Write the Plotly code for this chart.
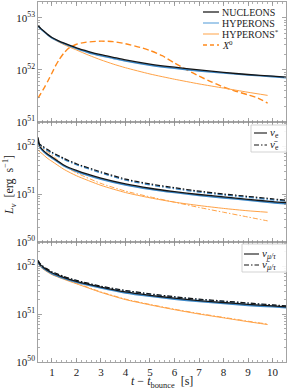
import numpy as np
import plotly.graph_objects as go
from plotly.subplots import make_subplots

# ---------------- data (log10 of luminosity, erg/s) ----------------
t_full = [0.43, 0.55, 0.7, 0.85, 1.0, 1.25, 1.5, 2, 2.5, 3, 3.5, 4, 5, 6, 7, 8, 9, 10, 10.55]
top_nucleons = [52.85, 52.79, 52.73, 52.67, 52.62, 52.56, 52.51, 52.42, 52.35, 52.29, 52.24, 52.19,
                52.11, 52.05, 52.00, 51.95, 51.91, 51.88, 51.86]
top_hyperons = [52.84, 52.78, 52.72, 52.66, 52.61, 52.55, 52.50, 52.41, 52.33, 52.27, 52.22, 52.17,
                52.09, 52.03, 51.98, 51.94, 51.90, 51.87, 51.85]
t_star = [0.43, 0.55, 0.7, 0.85, 1.0, 1.25, 1.5, 2, 2.5, 3, 3.5, 4, 5, 6, 7, 8, 9, 9.8]
top_hyperons_star = [52.83, 52.78, 52.72, 52.66, 52.61, 52.54, 52.48, 52.38, 52.28, 52.19, 52.11,
                     52.04, 51.92, 51.82, 51.73, 51.65, 51.57, 51.51]
t_x0 = [0.43, 0.55, 0.7, 0.85, 1.0, 1.15, 1.3, 1.5, 1.7, 2.0, 2.4, 3.0, 3.5, 4.0, 4.6, 5.0, 5.5,
        6.0, 6.5, 7.0, 7.5, 8.0, 8.5, 9.0, 9.4, 9.8]
top_x0 = [51.46, 51.55, 51.67, 51.80, 51.94, 52.08, 52.20, 52.33, 52.42, 52.49, 52.53, 52.55, 52.54,
          52.50, 52.43, 52.37, 52.27, 52.13, 52.00, 51.88, 51.77, 51.67, 51.59, 51.52, 51.46, 51.36]

t_nu = [0.43, 0.5, 0.6, 0.8, 1.0, 1.5, 2, 3, 4, 5, 6, 7, 8, 9, 10, 10.55]
t_nu_star = [0.43, 0.5, 0.6, 0.8, 1.0, 1.5, 2, 3, 4, 5, 6, 7, 8, 9, 9.8]

# middle panel: electron neutrinos / antineutrinos
mid_nue_nucleons = [52.18, 52.00, 51.93, 51.84, 51.77, 51.60, 51.49, 51.33, 51.21, 51.12, 51.05,
                    50.99, 50.94, 50.89, 50.84, 50.82]
mid_nue_hyperons = [52.15, 51.98, 51.91, 51.82, 51.75, 51.58, 51.47, 51.31, 51.19, 51.10, 51.03,
                    50.97, 50.92, 50.87, 50.82, 50.80]
mid_anue_nucleons = [52.08, 52.04, 52.00, 51.93, 51.87, 51.74, 51.63, 51.46, 51.31, 51.21, 51.13,
                     51.06, 51.00, 50.95, 50.90, 50.87]
mid_anue_hyperons = [52.06, 52.02, 51.98, 51.91, 51.85, 51.72, 51.61, 51.44, 51.29, 51.19, 51.11,
                     51.04, 50.98, 50.93, 50.88, 50.85]
mid_nue_star = [51.92, 51.88, 51.84, 51.75, 51.68, 51.51, 51.38, 51.18, 51.03, 50.92, 50.83, 50.76,
                50.70, 50.65, 50.62]
mid_anue_star = [52.04, 52.00, 51.96, 51.88, 51.81, 51.59, 51.44, 51.22, 51.06, 50.94, 50.83, 50.72,
                 50.62, 50.52, 50.44]

# bottom panel: heavy-lepton neutrinos / antineutrinos
bot_numu_nucleons = [52.10, 52.04, 51.99, 51.92, 51.86, 51.76, 51.68, 51.56, 51.46, 51.39, 51.33,
                     51.28, 51.24, 51.20, 51.17, 51.15]
bot_numu_hyperons = [52.08, 52.02, 51.97, 51.90, 51.84, 51.74, 51.66, 51.54, 51.44, 51.37, 51.31,
                     51.26, 51.22, 51.18, 51.15, 51.13]
bot_anumu_nucleons = [52.12, 52.06, 52.01, 51.94, 51.88, 51.78, 51.70, 51.58, 51.49, 51.42, 51.36,
                      51.31, 51.27, 51.23, 51.19, 51.17]
bot_anumu_hyperons = [52.11, 52.05, 52.00, 51.93, 51.87, 51.77, 51.69, 51.57, 51.48, 51.41, 51.35,
                      51.30, 51.26, 51.22, 51.18, 51.16]
bot_numu_star = [52.06, 52.00, 51.95, 51.88, 51.82, 51.72, 51.63, 51.45, 51.30, 51.19, 51.09, 51.00,
                 50.92, 50.84, 50.78]
bot_anumu_star = [52.07, 52.01, 51.96, 51.89, 51.83, 51.73, 51.64, 51.46, 51.31, 51.20, 51.10, 51.01,
                  50.93, 50.85, 50.79]

legend_top = ["NUCLEONS", "HYPERONS", "HYPERONS<sup>*</sup>", "<i>X</i><sup>0</sup>"]
legend_mid = ["<i>ν</i><sub>e</sub>", "<i>ν̄</i><sub>e</sub>"]
legend_bot = ["<i>ν</i><sub><i>μ/τ</i></sub>", "<i>ν̄</i><sub><i>μ/τ</i></sub>"]

x_ticks = [1, 2, 3, 4, 5, 6, 7, 8, 9, 10]
y_ticks_top = [51, 52, 53]
y_ticks_low = [50, 51, 52]
x_title = "<i>t</i> − <i>t</i><sub>bounce</sub>  [s]"
y_title = "<i>L</i><sub><i>ν</i></sub>  [erg  s<sup>−1</sup>]"

# ---------------- styling ----------------
BLACK = "#151515"
BLUE = "#3d88c8"
ORANGE = "#ffa246"
ORANGE_D = "#ff8a1c"
AXC = "#8c8c8c"
FONT = "Liberation Serif"
DASHDOT = "5px,2px,1.5px,2px"


def p(v):
    return 10 ** np.asarray(v, dtype=float)


fig = make_subplots(rows=3, cols=1, shared_xaxes=True, vertical_spacing=0)


def add(row, x, y, color, width, dash="solid"):
    fig.add_trace(go.Scatter(x=x, y=p(y), mode="lines", showlegend=False, hoverinfo="skip",
                             line=dict(color=color, width=width, dash=dash, shape="spline",
                                       smoothing=0.6)), row=row, col=1)


# top
add(1, t_x0, top_x0, ORANGE_D, 1.4, "6px,3px")
add(1, t_star, top_hyperons_star, ORANGE, 1.0)
add(1, t_full, top_hyperons, BLUE, 1.6)
add(1, t_full, top_nucleons, BLACK, 1.3)
# middle
add(2, t_nu_star, mid_anue_star, ORANGE, 1.0, DASHDOT)
add(2, t_nu_star, mid_nue_star, ORANGE, 1.0)
add(2, t_nu, mid_anue_hyperons, BLUE, 1.4, DASHDOT)
add(2, t_nu, mid_nue_hyperons, BLUE, 1.6)
add(2, t_nu, mid_anue_nucleons, BLACK, 1.2, DASHDOT)
add(2, t_nu, mid_nue_nucleons, BLACK, 1.3)
# bottom
add(3, t_nu_star, bot_anumu_star, ORANGE, 1.0, DASHDOT)
add(3, t_nu_star, bot_numu_star, ORANGE, 1.0)
add(3, t_nu, bot_anumu_hyperons, BLUE, 1.4, DASHDOT)
add(3, t_nu, bot_numu_hyperons, BLUE, 1.6)
add(3, t_nu, bot_anumu_nucleons, BLACK, 1.2, DASHDOT)
add(3, t_nu, bot_numu_nucleons, BLACK, 1.3)

xminor = dict(ticks="inside", ticklen=2, dtick=0.2, tick0=0, tickcolor=AXC, tickwidth=0.7,
              showgrid=False)
for r in (1, 2, 3):
    fig.update_xaxes(row=r, col=1, range=[0.43, 10.55], tickmode="array", tickvals=x_ticks,
                     ticktext=[str(v) for v in x_ticks], ticks="inside", ticklen=4,
                     tickcolor=AXC, tickwidth=0.8, showline=True, linecolor=AXC, linewidth=0.8,
                     mirror="ticks", showgrid=False, zeroline=False, minor=xminor,
                     tickfont=dict(family=FONT, size=11, color="#222"))


def yminor(lo, hi):
    vals = [m * 10.0 ** e for e in range(lo, hi) for m in range(2, 10)]
    return dict(ticks="inside", ticklen=2, tickmode="array", tickvals=vals, tickcolor=AXC,
                tickwidth=0.7, showgrid=False)


for r, rng, tv in ((1, [51, 53.3], y_ticks_top), (2, [50, 52.5], y_ticks_low),
                   (3, [50, 52.5], y_ticks_low)):
    fig.update_yaxes(row=r, col=1, type="log", range=rng, tickmode="array",
                     tickvals=[10.0 ** e for e in tv],
                     ticktext=["10<sup>%d</sup>" % e for e in tv],
                     ticks="inside", ticklen=4, tickcolor=AXC, tickwidth=0.8, showline=True,
                     linecolor=AXC, linewidth=0.8, mirror="ticks", showgrid=False,
                     zeroline=False, minor=yminor(int(rng[0]), int(np.ceil(rng[1]))),
                     tickfont=dict(family=FONT, size=11, color="#222"))

H = 392.0
T, B = 2.0, 30.0
L, R = 38.0, 1.0
W = 287.0


def px_x(x):
    return (x - L) / (W - L - R)


def px_y(y):
    return (H - B - y) / (H - T - B)


shapes = []
ann = []


def leg_line(x0, x1, y, color, width, dash):
    shapes.append(dict(type="line", xref="paper", yref="paper", x0=px_x(x0), x1=px_x(x1),
                       y0=px_y(y), y1=px_y(y), line=dict(color=color, width=width, dash=dash)))


def leg_text(x, y, text, size=10):
    ann.append(dict(xref="paper", yref="paper", x=px_x(x), y=px_y(y), text=text, showarrow=False,
                    xanchor="left", yanchor="middle", font=dict(family=FONT, size=size,
                                                                color="#222")))


# top legend (no frame)
top_styles = [("#4a4a4a", 1.6, "solid"), ("#80b6e2", 1.4, "solid"), ("#ffb266", 1.2, "solid"),
              (ORANGE_D, 1.4, "4px,3px")]
for i, (lab, st) in enumerate(zip(legend_top, top_styles)):
    yy = 12 + 11 * i
    leg_line(203, 219, yy, *st)
    leg_text(220, yy, lab)

# middle legend
shapes.append(dict(type="rect", xref="paper", yref="paper", x0=px_x(251), x1=px_x(286.5),
                   y0=px_y(125), y1=px_y(152), line=dict(color="#c8c8c8", width=0.8),
                   fillcolor="rgba(255,255,255,0.9)", layer="above"))
leg_line(254, 267, 133, BLACK, 1.1, "solid")
leg_line(254, 267, 145, BLACK, 1.1, DASHDOT)
leg_text(268, 133, legend_mid[0], 11)
leg_text(268, 145, legend_mid[1], 11)

# bottom legend
shapes.append(dict(type="rect", xref="paper", yref="paper", x0=px_x(242), x1=px_x(286.5),
                   y0=px_y(244), y1=px_y(272), line=dict(color="#c8c8c8", width=0.8),
                   fillcolor="rgba(255,255,255,0.9)", layer="above"))
leg_line(244, 259, 254, BLACK, 1.1, "solid")
leg_line(244, 259, 265, BLACK, 1.1, DASHDOT)
leg_text(260, 254, legend_bot[0], 11)
leg_text(260, 265, legend_bot[1], 11)

# axis titles
ann.append(dict(xref="paper", yref="paper", x=px_x(162), y=px_y(372), text=x_title,
                showarrow=False, xanchor="center", yanchor="top",
                font=dict(family=FONT, size=12, color="#222")))
ann.append(dict(xref="paper", yref="paper", x=px_x(9), y=px_y(185), text=y_title,
                showarrow=False, xanchor="center", yanchor="middle", textangle=-90,
                font=dict(family=FONT, size=12, color="#222")))

fig.update_layout(width=287, height=392, margin=dict(l=L, r=R, t=T, b=B),
                  paper_bgcolor="white", plot_bgcolor="white", showlegend=False,
                  shapes=shapes, annotations=ann, font=dict(family=FONT))

fig.write_html("out.html", config={"displayModeBar": False, "staticPlot": True},
               post_script="document.body.style.margin='0px';"
                           "document.body.style.overflow='hidden';")
